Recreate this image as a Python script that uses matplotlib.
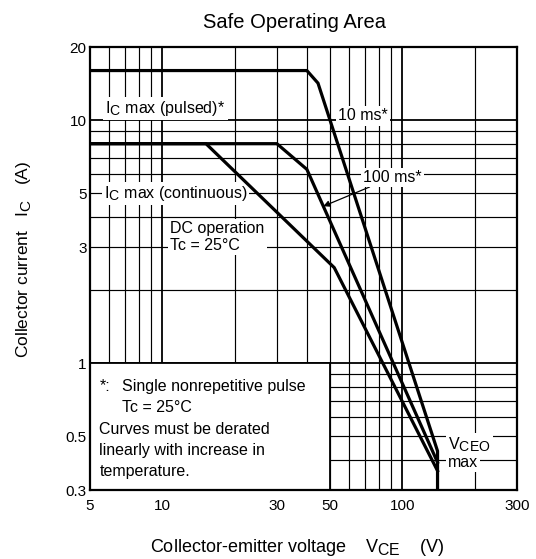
import matplotlib
matplotlib.use("Agg")
import matplotlib.pyplot as plt
import matplotlib._mathtext as mt
from matplotlib.patches import Rectangle

plt.rcParams["font.family"] = ["Liberation Sans", "DejaVu Sans"]
plt.rcParams["mathtext.fontset"] = "custom"
plt.rcParams["mathtext.rm"] = "Liberation Sans"
mt.SHRINK_FACTOR = 0.88   # datasheet subscripts are almost full size

# ---- curve data (V_CE in V, I_C in A)
pulsed_v = [5, 40, 44.5, 140, 140]
pulsed_i = [16, 16, 14.2, 0.434, 0.3]
ms100_v = [5, 30, 40, 140]
ms100_i = [8, 8, 6.27, 0.39]
dc_v = [5, 15.2, 52, 140]
dc_i = [8, 8, 2.47, 0.36]

x_ticks = [5, 10, 30, 50, 100, 300]
x_ticklabels = ["5", "10", "30", "50", "100", "300"]
y_ticks = [0.3, 0.5, 1, 3, 5, 10, 20]
y_ticklabels = ["0.3", "0.5", "1", "3", "5", "10", "20"]

x_grid = [6, 7, 8, 9, 20, 30, 40, 50, 60, 70, 80, 90, 200]
x_grid_major = [10, 100]
y_grid = [0.4, 0.5, 0.6, 0.7, 0.8, 0.9, 2, 3, 4, 5, 6, 7, 8, 9]
y_grid_major = [1, 10]

note_lines = ["Curves must be derated",
              "linearly with increase in",
              "temperature."]

fig = plt.figure(figsize=(5.36, 5.59), dpi=100)
ax = fig.add_axes([0.1679, 0.1234, 0.7967, 0.7925])
ax.set_xscale("log")
ax.set_yscale("log")
ax.set_xlim(5, 300)
ax.set_ylim(0.3, 20)

# grid
for v in x_grid:
    ax.axvline(v, color="black", lw=0.85, zorder=0.5)
for v in x_grid_major:
    ax.axvline(v, color="black", lw=1.3, zorder=0.5)
for v in y_grid:
    ax.axhline(v, color="black", lw=0.85, zorder=0.5)
for v in y_grid_major:
    ax.axhline(v, color="black", lw=1.3, zorder=0.5)

# footnote box (covers the grid in the lower left)
ax.add_patch(Rectangle((5, 0.3), 50 - 5, 1 - 0.3, facecolor="white",
                       edgecolor="black", lw=1.3, zorder=1))

# curves
kw = dict(color="black", lw=2.3, solid_joinstyle="miter", zorder=4)
ax.plot(pulsed_v, pulsed_i, **kw)
ax.plot(ms100_v, ms100_i, **kw)
ax.plot(dc_v, dc_i, **kw)

bb = dict(facecolor="white", edgecolor="none", pad=1.5)
fs = 11.5
ax.text(5.8, 11.2, "I$_\\mathregular{C}$ max (pulsed)*", fontsize=fs,
        va="center", ha="left", bbox=bb, zorder=3)
ax.text(5.7, 5.0, "I$_\\mathregular{C}$ max (continuous)", fontsize=fs,
        va="center", ha="left", bbox=bb, zorder=3)
ax.text(10.8, 3.3, "DC operation\nTc = 25°C", fontsize=fs,
        va="center", ha="left", bbox=bb, zorder=3, linespacing=1.2)
ax.text(54, 10.4, "10 ms*", fontsize=fs, va="center", ha="left",
        bbox=bb, zorder=3)
ax.annotate("100 ms*", xy=(46.8, 4.42), xytext=(68.7, 5.81),
            fontsize=fs, va="center", ha="left", bbox=bb, zorder=3,
            arrowprops=dict(arrowstyle="-|>", color="black", lw=0.9,
                            shrinkA=0, shrinkB=0, mutation_scale=9))
ax.text(155, 0.462, "V$_\\mathregular{CEO}$", fontsize=fs,
        va="center", ha="left", bbox=bb, zorder=3)
ax.text(155, 0.39, "max", fontsize=fs,
        va="center", ha="left", bbox=bb, zorder=3)

# footnote
ax.text(5.47, 0.804, "*:", fontsize=fs, va="center", ha="left", zorder=3)
ax.text(6.82, 0.804, "Single nonrepetitive pulse", fontsize=fs,
        va="center", ha="left", zorder=3)
ax.text(6.82, 0.659, "Tc = 25°C", fontsize=fs, va="center", ha="left",
        zorder=3)
for y, s in zip([0.531, 0.435, 0.356], note_lines):
    ax.text(5.47, y, s, fontsize=fs, va="center", ha="left", zorder=3)

ax.set_xticks(x_ticks)
ax.set_xticklabels(x_ticklabels)
ax.set_yticks(y_ticks)
ax.set_yticklabels(y_ticklabels)
ax.minorticks_off()
ax.tick_params(length=0, labelsize=11)
ax.tick_params(axis="x", pad=6.5)
ax.tick_params(axis="y", pad=2.5)
for s in ax.spines.values():
    s.set_linewidth(1.6)
    s.set_zorder(5)

ax.set_title("Safe Operating Area", fontsize=14.5, pad=14, x=0.48)
ax.set_xlabel("Collector-emitter voltage    V$_\\mathregular{CE}$    (V)",
              fontsize=13, labelpad=17, x=0.485)
ax.set_ylabel("Collector current   I$_\\mathregular{C}$   (A)",
              fontsize=12.5, labelpad=23, y=0.52)

fig.savefig("out.png", dpi=100)
